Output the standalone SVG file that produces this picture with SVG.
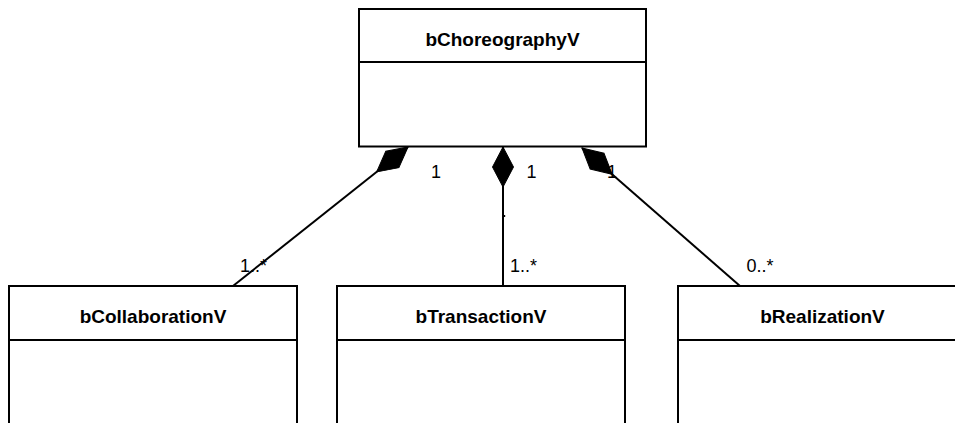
<svg xmlns="http://www.w3.org/2000/svg" width="955" height="423" viewBox="0 0 955 423">
  <style>
    .box { fill: #ffffff; stroke: #000000; stroke-width: 2; }
    .div { stroke: #000000; stroke-width: 2; }
    .title { font-family: "Liberation Sans", Arial, sans-serif; font-weight: bold; font-size: 19px; fill: #000000; text-anchor: middle; }
    .lbl { font-family: "Liberation Sans", Arial, sans-serif; font-size: 18px; fill: #000000; }
    .edge { stroke: #000000; stroke-width: 2; fill: none; }
    .dia { fill: #000000; stroke: #000000; stroke-width: 1; }
  </style>
  <defs>
    <!-- composition diamond, tip at origin, pointing back along +x -->
    <path id="diamond" d="M0,0 L20,-10.5 L40,0 L20,10.5 Z"/>
  </defs>
  <rect x="0" y="0" width="955" height="423" fill="#ffffff"/>

  <g id="connectors">
    <line class="edge" x1="408" y1="147" x2="233" y2="286"/>
    <line class="edge" x1="503" y1="147" x2="503" y2="286"/>
    <line class="edge" x1="582" y1="148" x2="740" y2="286"/>
    <text class="lbl" x="436" y="177.5" text-anchor="middle">1</text>
    <text class="lbl" x="531.5" y="177.5" text-anchor="middle">1</text>
    <text class="lbl" x="612" y="177.5" text-anchor="middle">1</text>
    <use href="#diamond" class="dia" transform="translate(408,147) rotate(141.5)"/>
    <use href="#diamond" class="dia" transform="translate(503,147) rotate(90)"/>
    <use href="#diamond" class="dia" transform="translate(582,148) rotate(41.1)"/>
    <rect x="504" y="215" width="1.2" height="2" fill="#000000"/>
    <text class="lbl" x="240" y="272">1..*</text>
    <text class="lbl" x="510" y="272">1..*</text>
    <text class="lbl" x="746.5" y="272">0..*</text>
  </g>

  <g id="bChoreographyV">
    <rect class="box" x="359" y="9" width="287" height="137.5"/>
    <line class="div" x1="359" y1="62" x2="646" y2="62"/>
    <text class="title" x="502.5" y="46">bChoreographyV</text>
  </g>

  <g id="bCollaborationV">
    <rect class="box" x="9" y="286" width="288" height="150"/>
    <line class="div" x1="9" y1="340" x2="297" y2="340"/>
    <text class="title" x="153" y="322.5">bCollaborationV</text>
  </g>

  <g id="bTransactionV">
    <rect class="box" x="337" y="286" width="288" height="150"/>
    <line class="div" x1="337" y1="340" x2="625" y2="340"/>
    <text class="title" x="481" y="322.5">bTransactionV</text>
  </g>

  <g id="bRealizationV">
    <rect class="box" x="678" y="286" width="289" height="150"/>
    <line class="div" x1="678" y1="340" x2="967" y2="340"/>
    <text class="title" x="822.5" y="322.5">bRealizationV</text>
  </g>
</svg>
